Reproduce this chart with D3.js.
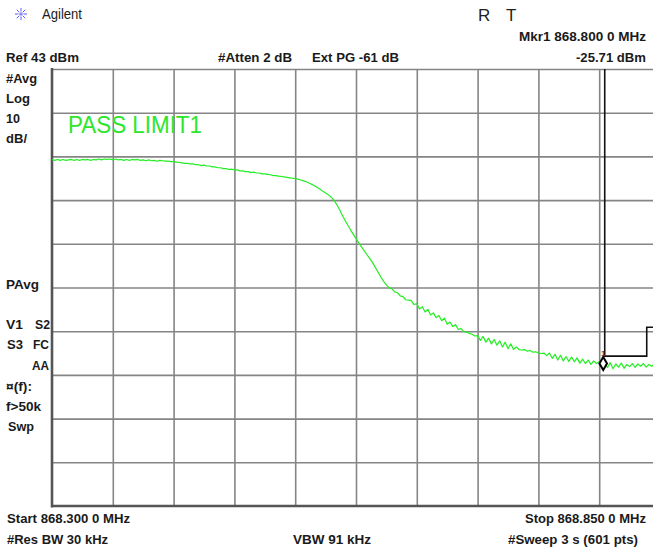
<!DOCTYPE html>
<html><head><meta charset="utf-8">
<script src="https://cdn.jsdelivr.net/npm/d3@7"></script>
<style>
html,body{margin:0;padding:0;background:#fff;}
svg{display:block;font-family:"Liberation Sans",Arial,sans-serif;}
</style></head>
<body>
<svg id="c" width="653" height="550"></svg>
<script>
// ---- data ----
const startMHz = 868.300;
const stopMHz = 868.850;
const refLevel = 43;        // dBm, top of graticule
const dbPerDiv = 10;
const nDivs = 10;
const traceDbm = [
 22.3,22.1,22.3,22.1,22.3,22.1,22.2,22.3,22.1,22.3,
 22.1,22.3,22.2,22.3,22.1,22.3,22.2,22.4,22.2,22.4,
 22.3,22.4,22.2,22.4,22.2,22.3,22.1,22.3,22.1,22.3,
 22.2,22.3,22.1,22.2,22.0,22.2,22.0,22.1,21.9,22.1,
 22.0,21.9,21.9,21.8,21.8,21.7,21.6,21.5,21.4,21.4,
 21.3,21.3,21.1,21.1,20.9,21.0,20.8,20.8,20.6,20.6,
 20.4,20.4,20.2,20.2,20.0,20.1,19.9,19.9,19.7,19.7,
 19.5,19.5,19.3,19.4,19.2,19.2,19.0,19.0,18.9,18.8,
 18.6,18.6,18.5,18.4,18.3,18.2,18.1,18.0,17.9,17.8,
 17.6,17.4,17.2,16.9,16.6,16.3,15.9,15.5,15.0,14.6,
 14.2,13.7,13.0,12.0,10.9,9.6,8.4,7.3,6.2,5.2,
 4.2,3.2,2.3,1.4,0.5,-0.4,-1.3,-2.4,-3.5,-4.6,
 -5.6,-6.4,-7.1,-7.3,-8.0,-8.2,-8.9,-9.1,-9.8,-9.9,
 -10.0,-10.9,-10.7,-11.9,-11.4,-12.6,-12.0,-13.3,-12.8,-13.9,
 -13.4,-14.6,-14.0,-15.4,-14.9,-15.9,-15.5,-16.6,-16.4,-17.1,
 -17.2,-17.5,-17.7,-18.1,-18.0,-19.1,-18.2,-19.5,-18.6,-19.9,
 -18.9,-20.2,-19.2,-20.6,-19.5,-21.0,-19.9,-21.2,-20.6,-21.2,
 -21.3,-21.2,-21.6,-21.4,-21.8,-21.7,-22.0,-22.1,-22.0,-22.6,
 -22.0,-23.2,-22.3,-23.6,-22.5,-23.8,-22.8,-23.9,-22.9,-24.0,
 -23.1,-24.3,-23.4,-24.4,-23.6,-24.6,-23.8,-24.4,-24.0,-24.5,
 -24.4,-25.3,-24.2,-25.6,-24.5,-25.2,-24.3,-25.5,-24.6,-25.1,
 -24.4,-25.3,-24.5,-25.0,-24.4,-25.2,-24.6,-25.0,-24.5,-25.1,-24.8
];
const limitFreq = [868.800, 868.800, 868.838, 868.838, 868.850];
const limitDbm  = [43, -22.7, -22.7, -16.1, -16.1];
const markerFreq = 868.800;
const markerDbm = -24.4;
const headerTexts = ["Ref 43 dBm", "#Atten 2 dB", "Ext PG -61 dB", "-25.71 dBm", "Mkr1  868.800 0 MHz"];
const sideTexts = ["#Avg", "Log", "10", "dB/", "PAvg", "V1", "S2", "S3", "FC", "AA", "\u00a4(f):", "f>50k", "Swp"];
const footerTexts = ["Start 868.300 0 MHz", "Stop 868.850 0 MHz", "#Res BW 30 kHz", "VBW 91 kHz", "#Sweep 3 s (601 pts)"];
const limitTitle = "PASS LIMIT1";

// ---- layout ----
const svg = d3.select("#c");
const L = 52, T = 69, R = 660, B = 506;
const step = (stopMHz - startMHz) / (traceDbm.length - 1);
const x = d3.scaleLinear().domain([startMHz, stopMHz]).range([L, R]);
const y = d3.scaleLinear().domain([refLevel, refLevel - nDivs * dbPerDiv]).range([T, B]);

const xTicks = d3.range(nDivs + 1).map(i => startMHz + i * (stopMHz - startMHz) / nDivs);
const yTicks = d3.range(nDivs + 1).map(i => refLevel - i * dbPerDiv);

// grid via axes
const gx = svg.append("g").attr("transform", `translate(0,${B})`)
  .call(d3.axisBottom(x).tickValues(xTicks.slice(1)).tickSize(-(B - T)).tickFormat(""));
const gy = svg.append("g").attr("transform", `translate(${L},0)`)
  .call(d3.axisLeft(y).tickValues(yTicks.slice(0, -1)).tickSize(-(R - L)).tickFormat(""));
[gx, gy].forEach(g => {
  g.select(".domain").remove();
  g.selectAll(".tick line").attr("stroke", "#858585").attr("stroke-width", 1.6);
});
// borders
svg.append("line").attr("x1", L).attr("x2", L).attr("y1", T - 1).attr("y2", B + 1.5)
  .attr("stroke", "#555").attr("stroke-width", 2.6);
svg.append("line").attr("x1", L).attr("x2", 653).attr("y1", B).attr("y2", B)
  .attr("stroke", "#555").attr("stroke-width", 2.6);

// clip
svg.append("clipPath").attr("id", "clip").append("rect")
  .attr("x", L).attr("y", T).attr("width", R - L).attr("height", B - T);

// trace
const line = d3.line().x((d, i) => x(startMHz + i * step)).y(d => y(d));
svg.append("path").datum(traceDbm).attr("clip-path", "url(#clip)")
  .attr("d", line).attr("fill", "none").attr("stroke", "#22ee22")
  .attr("stroke-width", 1.2).attr("stroke-linejoin", "round");

// limit line
const lim = limitFreq.map((f, i) => [f, limitDbm[i]]);
svg.append("path").datum(lim)
  .attr("d", d3.line().x(d => x(d[0])).y(d => y(d[1])))
  .attr("fill", "none").attr("stroke", "#111").attr("stroke-width", 1.6);

// marker
const mx = x(markerFreq) - 1.5, my = y(markerDbm);
svg.append("path").attr("d", d3.symbol(d3.symbolDiamond, 50)())
  .attr("transform", `translate(${mx},${my})`)
  .attr("fill", "#fff").attr("stroke", "#000").attr("stroke-width", 2);
svg.append("text").attr("x", mx).attr("y", my - 8).attr("text-anchor", "middle")
  .attr("font-size", 8).attr("font-weight", "bold").attr("fill", "#7a2a40").text("1");

// text helper
function txt(s, xx, yy, opt = {}) {
  const t = svg.append("text").attr("x", xx).attr("y", yy)
    .attr("font-size", opt.size || 13.5)
    .attr("font-weight", opt.weight || "bold")
    .attr("fill", opt.fill || "#1a1a1a")
    .attr("text-anchor", opt.anchor || "start")
    .text(s);
  if (opt.w) t.attr("textLength", opt.w).attr("lengthAdjust", "spacingAndGlyphs");
  return t;
}

// logo
const logo = svg.append("g").attr("transform", "translate(21,14)").attr("stroke", "#5a5af5").attr("stroke-width", 1);
d3.range(8).forEach(i => {
  const a = i * Math.PI / 4;
  logo.append("line").attr("x1", Math.cos(a) * 2.5).attr("y1", Math.sin(a) * 2.5)
    .attr("x2", Math.cos(a) * 6).attr("y2", Math.sin(a) * 6);
});
logo.append("circle").attr("r", 1.8).attr("fill", "#8a8af8").attr("stroke", "none");
txt("Agilent", 42, 19, {size: 14, weight: "normal", w: 40});
txt("R", 478, 21, {size: 17, weight: "normal", fill: "#222"});
txt("T", 506, 21, {size: 17, weight: "normal", fill: "#222"});

// header
txt(headerTexts[4], 646, 41, {anchor: "end", w: 127});
txt(headerTexts[0], 6, 62, {w: 73});
txt(headerTexts[1], 218, 62, {w: 74});
txt(headerTexts[2], 312, 62, {w: 87});
txt(headerTexts[3], 646, 62, {anchor: "end", w: 70});

// side labels
txt(sideTexts[0], 6, 83, {w: 31});
txt(sideTexts[1], 6, 103, {w: 24});
txt(sideTexts[2], 6, 123, {w: 14});
txt(sideTexts[3], 6, 143, {w: 21});
txt(sideTexts[4], 6, 289, {w: 33});
txt(sideTexts[5], 6, 329, {w: 17});
txt(sideTexts[6], 35, 329, {w: 15});
txt(sideTexts[7], 7, 349, {w: 16});
txt(sideTexts[8], 33, 349, {w: 16});
txt(sideTexts[9], 32, 370, {w: 17});
txt(sideTexts[10], 6, 391, {w: 26});
txt(sideTexts[11], 6, 411, {w: 35});
txt(sideTexts[12], 8, 431, {w: 26});

// pass limit
txt(limitTitle, 68, 133, {size: 23, weight: "normal", fill: "#2be62b", w: 134});

// footer
txt(footerTexts[0], 7, 523, {w: 123});
txt(footerTexts[1], 646, 523, {anchor: "end", w: 121});
txt(footerTexts[2], 7, 544, {w: 101});
txt(footerTexts[3], 293, 544, {w: 78});
txt(footerTexts[4], 508, 544, {w: 130});
</script>
</body></html>
